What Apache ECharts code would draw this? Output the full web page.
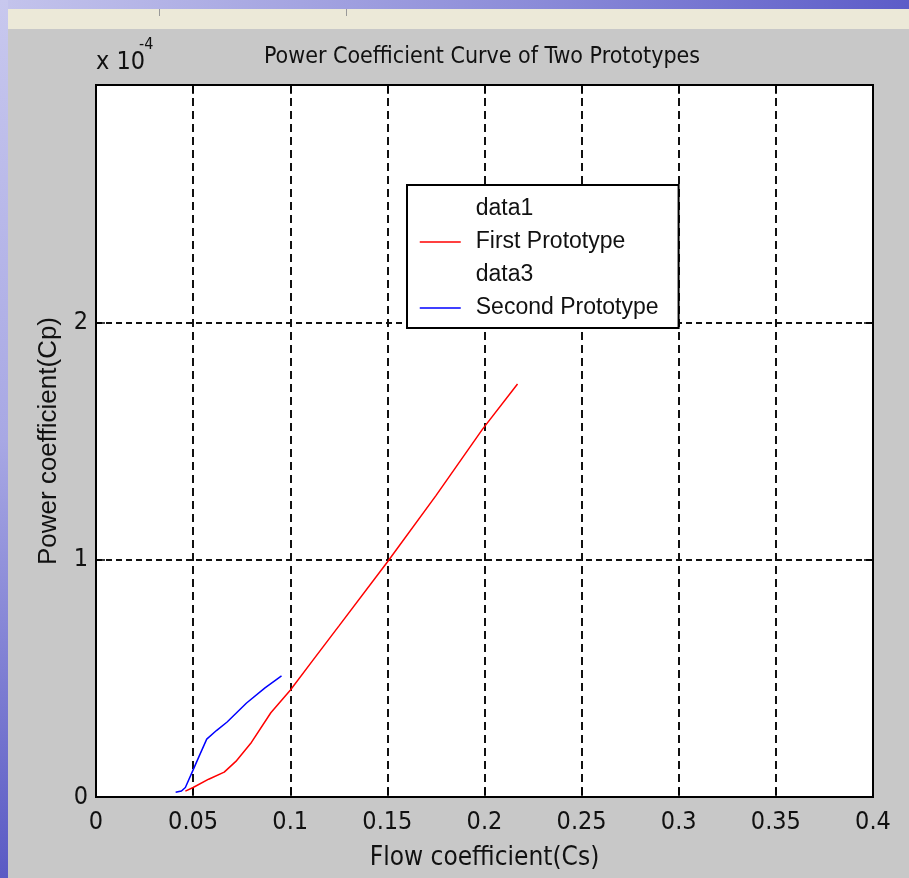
<!DOCTYPE html>
<html>
<head>
<meta charset="utf-8">
<script src="https://cdn.jsdelivr.net/npm/echarts@6/dist/echarts.min.js"></script>
<style>
  html, body { margin: 0; padding: 0; background: #c8c8c8; }
  #chart { width: 909px; height: 878px; }
</style>
</head>
<body>
<div id="chart"></div>
<script>
// values are in units of 1e-4 (see the "x 10^-4" label)
const xTicks = [0, 0.05, 0.1, 0.15, 0.2, 0.25, 0.3, 0.35, 0.4];
const yTicks = [0, 1, 2];

const firstPrototype = [
  [0.046, 0.025], [0.050, 0.040], [0.058, 0.075], [0.066, 0.105],
  [0.072, 0.150], [0.080, 0.230], [0.090, 0.355], [0.100, 0.450],
  [0.112, 0.580], [0.125, 0.720], [0.150, 0.990], [0.175, 1.270],
  [0.199, 1.550], [0.217, 1.740]
];

const secondPrototype = [
  [0.041, 0.020], [0.044, 0.025], [0.046, 0.040], [0.0495, 0.105],
  [0.053, 0.170], [0.057, 0.244], [0.062, 0.280], [0.0675, 0.316],
  [0.0775, 0.396], [0.087, 0.460], [0.0955, 0.510]
];

const legendNames = ['data1', 'First Prototype', 'data3', 'Second Prototype'];

const narrow = '"Liberation Sans Narrow", "DejaVu Sans Condensed", "Liberation Sans", sans-serif';
const regular = '"Liberation Sans", Arial, sans-serif';

let chart = echarts.init(document.getElementById('chart'), null, {
  width: 909,
  height: 878
});

const gridDash = {
  show: true,
  lineStyle: { color: '#111', width: 2, type: [8, 5] }
};

let option = {
  backgroundColor: '#c8c8c8',
  animation: false,
  title: {
    text: 'Power Coefficient Curve of Two Prototypes',
    left: 477,
    top: 41,
    textAlign: 'center',
    textStyle: { fontFamily: narrow, fontSize: 23, fontWeight: 'normal', color: '#111' }
  },
  graphic: [
    // slide background strips round the figure window
    {
      type: 'rect', shape: { x: 0, y: 0, width: 909, height: 9 }, silent: true,
      style: { fill: new echarts.graphic.LinearGradient(0, 0, 1, 0, [
        { offset: 0, color: '#c4c4ec' }, { offset: 0.6, color: '#8a8ad8' }, { offset: 1, color: '#5c5cc8' }
      ]) }
    },
    {
      type: 'rect', shape: { x: 0, y: 9, width: 909, height: 20 }, silent: true,
      style: { fill: '#ece9d8' }
    },
    { type: 'rect', shape: { x: 159, y: 9, width: 1, height: 7 }, silent: true, style: { fill: '#999' } },
    { type: 'rect', shape: { x: 346, y: 9, width: 1, height: 7 }, silent: true, style: { fill: '#999' } },
    {
      type: 'rect', shape: { x: 0, y: 0, width: 8, height: 878 }, silent: true,
      style: { fill: new echarts.graphic.LinearGradient(0, 0, 0, 1, [
        { offset: 0, color: '#c8c8ee' }, { offset: 0.5, color: '#a8a8e4' }, { offset: 1, color: '#5a5ac4' }
      ]) }
    },
    {
      type: 'text', left: 96, top: 50, silent: true,
      style: { text: 'x 10', font: '25px ' + narrow, fill: '#111' }
    },
    {
      type: 'text', left: 139, top: 37, silent: true,
      style: { text: '-4', font: '16px ' + narrow, fill: '#111' }
    }
  ],
  legend: {
    orient: 'vertical',
    left: 407,
    top: 185,
    data: legendNames,
    selectedMode: false,
    backgroundColor: '#fff',
    borderColor: '#000',
    borderWidth: 2,
    borderRadius: 0,
    padding: [12, 20, 8, 12],
    itemGap: 9,
    itemWidth: 41,
    itemHeight: 14,
    itemStyle: { opacity: 0 },
    lineStyle: { width: 1.5 },
    textStyle: {
      fontFamily: regular,
      fontSize: 23,
      lineHeight: 24,
      color: '#111',
      padding: [0, 0, 0, 10]
    }
  },
  grid: {
    left: 96,
    right: 36,
    top: 85,
    bottom: 81,
    outerBoundsMode: 'none',
    containLabel: false,
    show: true,
    backgroundColor: '#fff',
    borderColor: '#000',
    borderWidth: 2
  },
  xAxis: [{
    type: 'value',
    min: 0,
    max: 0.4,
    interval: 0.05,
    name: 'Flow coefficient(Cs)',
    nameLocation: 'middle',
    nameGap: 48,
    nameTextStyle: { fontFamily: narrow, fontSize: 26, color: '#111' },
    axisLine: { show: true, onZero: false, lineStyle: { color: '#000', width: 2 } },
    axisTick: { show: true, inside: true, length: 9, lineStyle: { color: '#000', width: 1.5 } },
    axisLabel: {
      margin: 13,
      fontFamily: narrow,
      fontSize: 25,
      color: '#111',
      formatter: function (value) {
        return String(+value.toFixed(2));
      }
    },
    splitLine: gridDash
  }, {
    type: 'value',
    position: 'top',
    min: 0,
    max: 0.4,
    interval: 0.05,
    axisLine: { show: true, onZero: false, lineStyle: { color: '#000', width: 2 } },
    axisTick: { show: true, inside: true, length: 9, lineStyle: { color: '#000', width: 1.5 } },
    axisLabel: { show: false },
    splitLine: { show: false }
  }],
  yAxis: [{
    type: 'value',
    min: 0,
    max: 3,
    interval: 1,
    name: 'Power coefficient(Cp)',
    nameLocation: 'middle',
    nameGap: 34,
    nameTextStyle: { fontFamily: regular, fontSize: 26, color: '#111' },
    axisLine: { show: true, onZero: false, lineStyle: { color: '#000', width: 2 } },
    axisTick: { show: true, inside: true, length: 9, lineStyle: { color: '#000', width: 1.5 } },
    axisLabel: {
      margin: 8,
      fontFamily: narrow,
      fontSize: 25,
      color: '#111',
      formatter: function (value) {
        return yTicks.indexOf(value) >= 0 ? String(value) : '';
      }
    },
    splitLine: {
      show: true,
      lineStyle: { color: '#111', width: 2, type: [6, 4] }
    }
  }, {
    type: 'value',
    position: 'right',
    min: 0,
    max: 3,
    interval: 1,
    axisLine: { show: true, onZero: false, lineStyle: { color: '#000', width: 2 } },
    axisTick: { show: true, inside: true, length: 9, lineStyle: { color: '#000', width: 1.5 } },
    axisLabel: { show: false },
    splitLine: { show: false }
  }],
  series: [{
    name: 'data1',
    type: 'line',
    symbol: 'none',
    color: '#fff',
    data: []
  }, {
    name: 'First Prototype',
    type: 'line',
    symbol: 'none',
    color: '#ff0000',
    lineStyle: { width: 1.5 },
    data: firstPrototype
  }, {
    name: 'data3',
    type: 'line',
    symbol: 'none',
    color: '#fff',
    data: []
  }, {
    name: 'Second Prototype',
    type: 'line',
    symbol: 'none',
    color: '#0000ff',
    lineStyle: { width: 1.5 },
    data: secondPrototype
  }]
};

chart.setOption(option);
</script>
</body>
</html>
